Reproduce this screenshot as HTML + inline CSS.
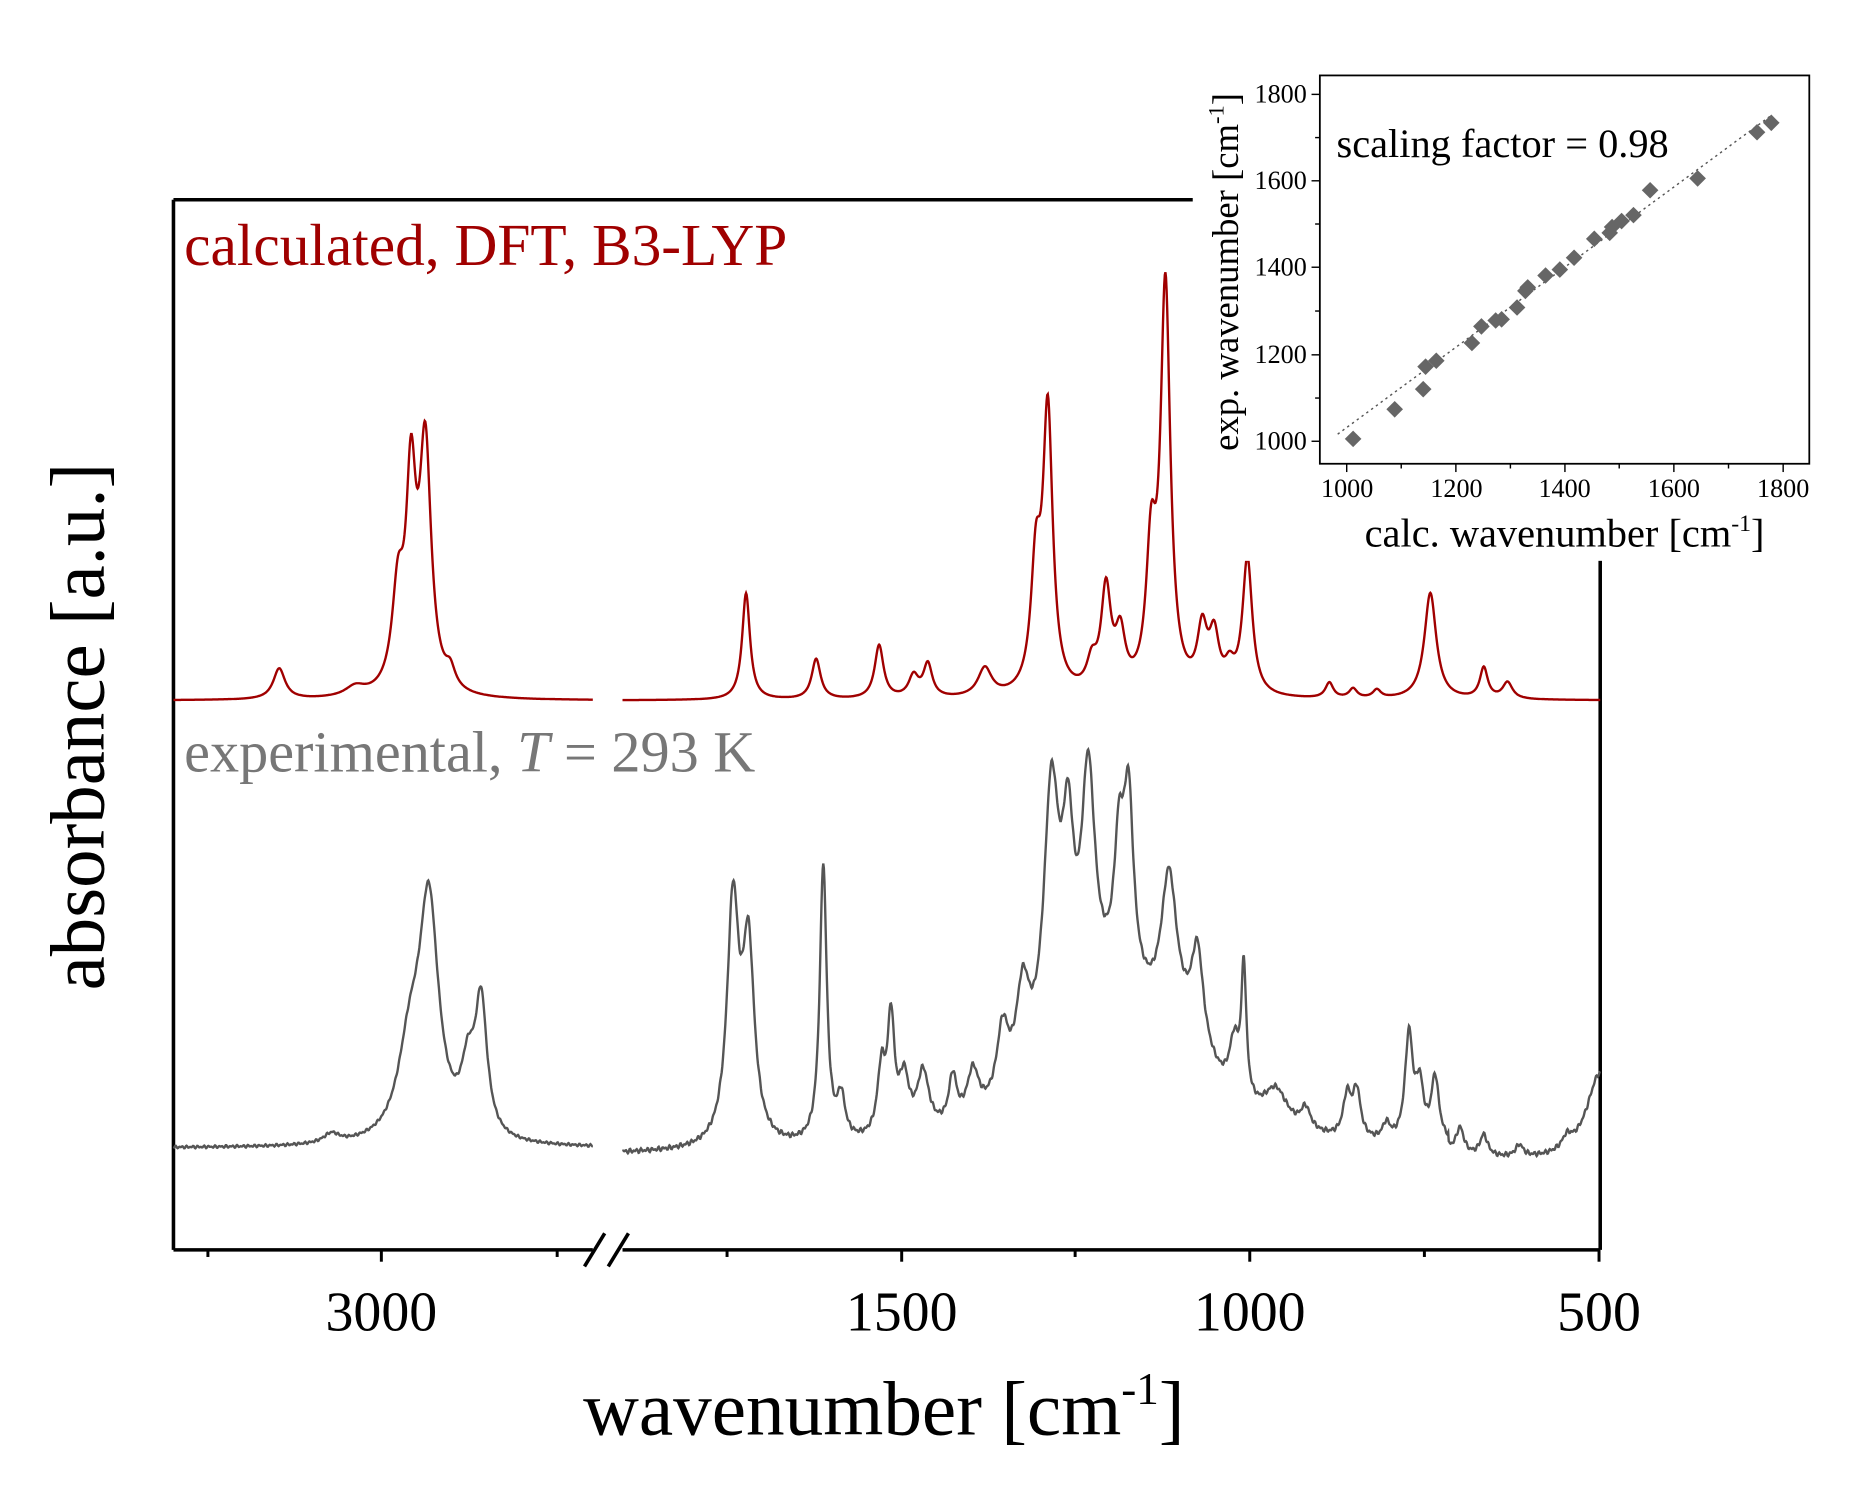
<!DOCTYPE html>
<html><head><meta charset="utf-8"><style>
html,body{margin:0;padding:0;background:#fff;}
svg{display:block;}
text{font-family:"Liberation Serif",serif;}
</style></head><body>
<svg id="s" width="1861" height="1489" viewBox="0 0 1556 1245" xmlns="http://www.w3.org/2000/svg">
<rect width="1556" height="1245" fill="#fff"/>
<g transform="matrix(0.9933,0,0,0.9899,-1,1.7)">
<g stroke="#000" stroke-width="3" fill="none">
<line x1="147" y1="167" x2="1348" y2="167"/>
<line x1="147" y1="167" x2="147" y2="1054"/>
<line x1="1348" y1="167" x2="1348" y2="1054"/>
<line x1="147" y1="1054" x2="500" y2="1054"/>
<line x1="525" y1="1054" x2="1348" y2="1054"/>
<line x1="493" y1="1068" x2="510" y2="1040"/>
<line x1="513" y1="1068" x2="530" y2="1040"/>
</g>
<g stroke="#000" stroke-width="2.5">
<line x1="322" y1="1054" x2="322" y2="1064"/><line x1="760" y1="1054" x2="760" y2="1064"/>
<line x1="1053" y1="1054" x2="1053" y2="1064"/><line x1="1347" y1="1054" x2="1347" y2="1064"/>
<line x1="176" y1="1054" x2="176" y2="1060"/><line x1="470" y1="1054" x2="470" y2="1060"/>
<line x1="613" y1="1054" x2="613" y2="1060"/><line x1="906" y1="1054" x2="906" y2="1060"/>
<line x1="1200" y1="1054" x2="1200" y2="1060"/>
</g>
<g font-size="47" text-anchor="middle" fill="#000">
<text x="322" y="1122">3000</text><text x="760" y="1122">1500</text>
<text x="1053" y="1122">1000</text><text x="1347" y="1122">500</text>
</g>
<text x="745" y="1210" font-size="65" text-anchor="middle">wavenumber [cm<tspan dy="-26" font-size="38">-1</tspan><tspan dy="26">]</tspan></text>
<text transform="translate(88,612) rotate(-90)" font-size="65" text-anchor="middle">absorbance [a.u.]</text>
<text x="156" y="222" font-size="50" fill="#a00000">calculated, DFT, B3-LYP</text>
<text x="156" y="650" font-size="49" fill="#777">experimental, <tspan font-style="italic">T</tspan> = 293 K</text>
<path id="red" fill="none" stroke="#a00000" stroke-width="2"/>
<path id="grey" fill="none" stroke="#555" stroke-width="2"/>
<rect x="1005" y="40" width="540" height="432" fill="#fff"/>
<rect x="1112" y="62" width="412" height="328" fill="none" stroke="#000" stroke-width="1.5"/>
<g id="iticks" stroke="#000" stroke-width="1.2"></g>
<g font-size="22" fill="#000" text-anchor="middle">
<text x="1135" y="418">1000</text><text x="1227" y="418">1200</text><text x="1318" y="418">1400</text>
<text x="1410" y="418">1600</text><text x="1502" y="418">1800</text>
</g>
<g font-size="22" fill="#000" text-anchor="end">
<text x="1101" y="378">1000</text><text x="1101" y="305">1200</text><text x="1101" y="231">1400</text>
<text x="1101" y="158">1600</text><text x="1101" y="85">1800</text>
</g>
<text x="1318" y="460" font-size="34" text-anchor="middle">calc. wavenumber [cm<tspan dy="-13" font-size="20">-1</tspan><tspan dy="13">]</tspan></text>
<text transform="translate(1043,228) rotate(-90)" font-size="31" text-anchor="middle">exp. wavenumber [cm<tspan dy="-12" font-size="19">-1</tspan><tspan dy="12">]</tspan></text>
<text x="1126" y="131" font-size="34">scaling factor = 0.98</text>
<line x1="1127" y1="365" x2="1493" y2="95" stroke="#555" stroke-width="1.2" stroke-dasharray="2,3"/>
<g id="pts" fill="#666"></g>
</g>
</svg>
<script>
function L(x,p){var s=0;for(var i=0;i<p.length;i++){var d=(x-p[i][0])/p[i][2];s+=p[i][1]/(1+d*d);}return s;}
function seg(x0,x1,base,p,noise){var d="";for(var x=x0;x<=x1;x+=0.5){var y=base(x)-L(x,p)+(noise?noise*Math.sin(x*1.7)*Math.sin(x*0.37):0);d+=(x==x0?"M":"L")+x.toFixed(1)+" "+y.toFixed(1);}return d;}
var rL=[[236,26,6],[300,8,10],[336,80,6],[347,165,5],[359,205,6],[380,15,5]];
var rR=[[629,90,4],[688,34,4.5],[741,45,4.5],[770,18,5],[782,28,4.5],[830,24,7],[873,100,5],[883,235,5],[920,22,5],[932,85,5],[944,45,5],[970,110,5],[982,340,5],[1013,50,5],[1023,45,5],[1036,18,5],[1051,115,5],[1120,13,4],[1140,8,4],[1160,7,4],[1205,90,6],[1250,26,4],[1270,14,5]];
document.getElementById("red").setAttribute("d",seg(147,500,function(){return 590;},rL,0)+seg(525,1348,function(){return 590;},rR,0));
var gL=[[280,8,8],[346,70,12],[362,195,10],[395,50,7],[406,110,6]];
var gR=[[940,120,55],[1000,40,30],[618,200,6],[631,160,6],[694,235,3.5],[709,35,4],[743,55,4],[751,95,3.5],[762,45,5],[778,50,6],[803,40,4],[820,40,6],[845,60,6],[862,80,7],[886,225,8],[900,145,6],[917,195,7],[943,105,5],[951,150,5],[985,125,8],[1009,80,6],[1040,45,5],[1048,110,2.5],[1075,30,12],[1100,18,5],[1135,35,4],[1143,40,4],[1168,14,4],[1187,90,4],[1196,45,4],[1209,55,4],[1230,22,4],[1250,18,4],[1280,10,4],[1320,10,5],[1348,75,14]];
document.getElementById("grey").setAttribute("d",seg(147,500,function(){return 968;},gL,1.2)+seg(525,1348,function(x){return 975+(x>1220?8:0);},gR,2));
var it="";
[1134.6,1226.5,1318.3,1410,1502].forEach(function(x){it+='<line x1="'+x+'" y1="390" x2="'+x+'" y2="397"/>';});
[1180.5,1272.4,1364,1456].forEach(function(x){it+='<line x1="'+x+'" y1="390" x2="'+x+'" y2="394"/>';});
[371,298,224,151,78].forEach(function(y){it+='<line x1="1112" y1="'+y+'" x2="1105" y2="'+y+'"/>';});
[334.5,261,187.5,114.5].forEach(function(y){it+='<line x1="1112" y1="'+y+'" x2="1108" y2="'+y+'"/>';});
document.getElementById("iticks").innerHTML=it;
var P=[[1140,369],[1175,344],[1199,327],[1201,308],[1210,303],[1240,288],[1248,274],[1260,269],[1265,268],[1278,258],[1285,244],[1287,241],[1302,231],[1314,226],[1326,216],[1343,200],[1356,195],[1358,190],[1366,185],[1376,180],[1390,159],[1430,149],[1480,110],[1492,102]];
var h="";P.forEach(function(p){h+='<polygon points="'+p[0]+','+(p[1]-7)+' '+(p[0]+7)+','+p[1]+' '+p[0]+','+(p[1]+7)+' '+(p[0]-7)+','+p[1]+'"/>';});
document.getElementById("pts").innerHTML=h;
</script>
</body></html>
